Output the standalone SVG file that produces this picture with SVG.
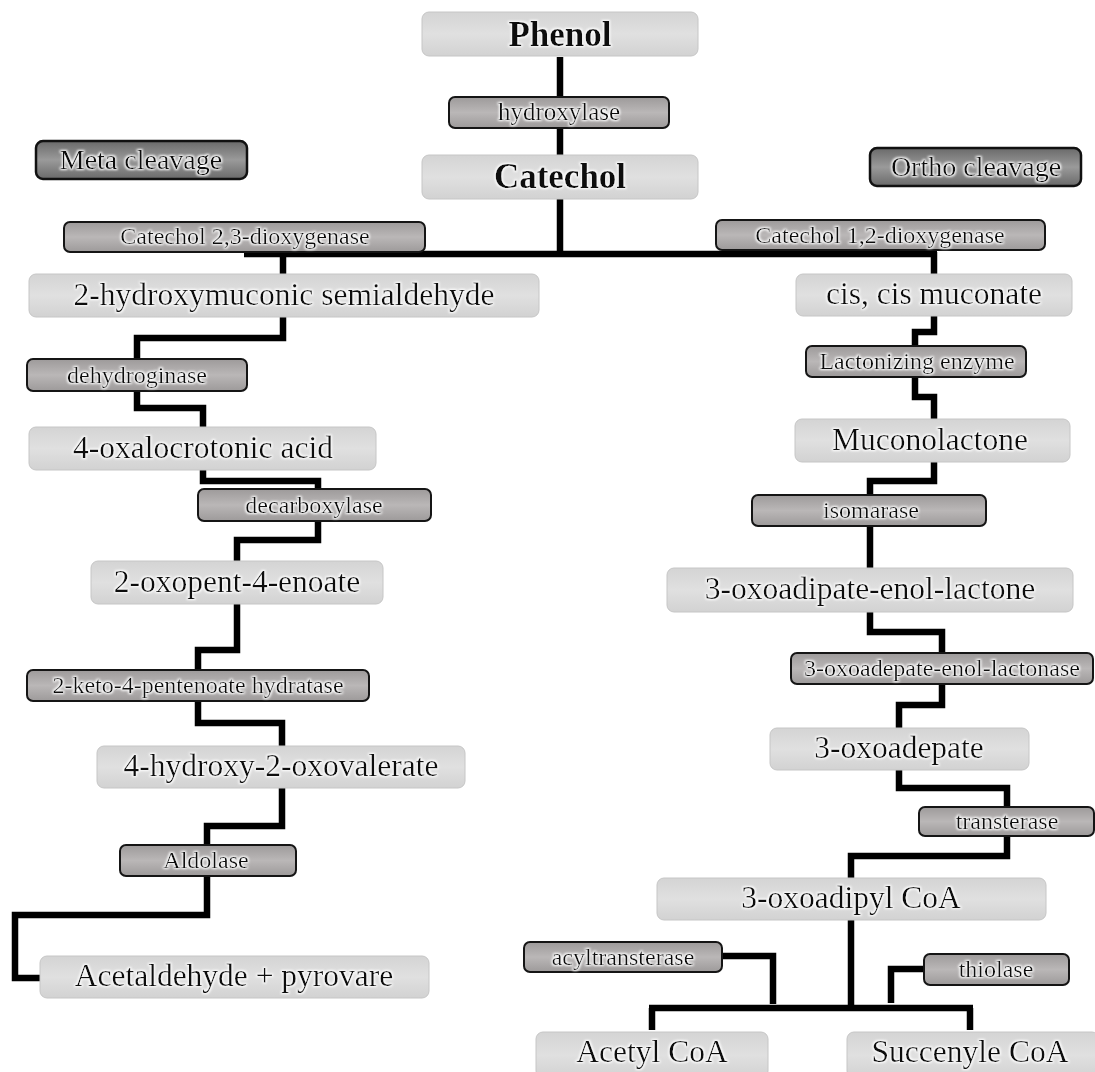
<svg xmlns="http://www.w3.org/2000/svg" width="1095" height="1072" viewBox="0 0 1095 1072">
<defs>
<linearGradient id="gNode" x1="0" y1="0" x2="0" y2="1">
<stop offset="0" stop-color="#d4d4d4"/><stop offset="0.5" stop-color="#e0e0e0"/><stop offset="1" stop-color="#d2d2d2"/>
</linearGradient>
<linearGradient id="gEnz" x1="0" y1="0" x2="0" y2="1">
<stop offset="0" stop-color="#9d9a9a"/><stop offset="0.5" stop-color="#bab7b7"/><stop offset="1" stop-color="#9d9a9a"/>
</linearGradient>
<linearGradient id="gCl" x1="0" y1="0" x2="0" y2="1">
<stop offset="0" stop-color="#6a6a6a"/><stop offset="0.5" stop-color="#9a9a9a"/><stop offset="1" stop-color="#6a6a6a"/>
</linearGradient>
<filter id="glow" x="-10%" y="-30%" width="120%" height="160%">
<feMorphology in="SourceAlpha" operator="dilate" radius="1" result="d"/>
<feGaussianBlur in="d" stdDeviation="1.2" result="b"/>
<feFlood flood-color="#ffffff"/>
<feComposite in2="b" operator="in" result="w"/>
<feMerge><feMergeNode in="w"/><feMergeNode in="SourceGraphic"/></feMerge>
</filter>
</defs>
<style>
.node{fill:url(#gNode);stroke:#c6c6c6;stroke-width:1}
.enz{fill:url(#gEnz);stroke:#151515;stroke-width:2}
.cl{fill:url(#gCl);stroke:#111;stroke-width:2.5}
.t{font-family:"Liberation Serif","Times New Roman",serif;fill:#111;text-anchor:middle;filter:url(#glow)}
.tn{font-size:31.5px}
.tb{font-size:35px;font-weight:bold}
.te{font-size:24px}
.tc{font-size:28px}
.c{fill:none;stroke:#000;stroke-width:6.5;stroke-linejoin:miter;stroke-linecap:butt}
</style>
<rect width="1095" height="1072" fill="#ffffff"/>

<g id="connectors">
<path class="c" d="M560,57 V155"/>
<path class="c" d="M560,199 V254"/>
<path class="c" d="M244,254 H937"/>
<path class="c" d="M283,254 V274"/>
<path class="c" d="M934,252 V274"/>
<path class="c" d="M283,317 V338 H137 V359"/>
<path class="c" d="M137,391 V408 H203 V427"/>
<path class="c" d="M203,470 V481 H318 V489"/>
<path class="c" d="M318,521 V540 H237 V561"/>
<path class="c" d="M237,604 V650 H198 V670"/>
<path class="c" d="M198,701 V723 H282 V746"/>
<path class="c" d="M282,788 V826 H207 V845"/>
<path class="c" d="M207,876 V915 H15 V978 H40"/>
<path class="c" d="M934,316 V332 H915 V346"/>
<path class="c" d="M915,377 V397 H934 V419"/>
<path class="c" d="M934,462 V481 H870 V495"/>
<path class="c" d="M870,526 V568"/>
<path class="c" d="M870,612 V632 H942 V653"/>
<path class="c" d="M942,684 V705 H899 V728"/>
<path class="c" d="M899,770 V788 H1007 V807"/>
<path class="c" d="M1007,836 V856 H851 V878"/>
<path class="c" d="M851,920 V1008"/>
<path class="c" d="M649,1008 H973"/>
<path class="c" d="M652,1008 V1030"/>
<path class="c" d="M970,1008 V1030"/>
<path class="c" d="M722,956 H773 V1004"/>
<path class="c" d="M924,969 H891 V1003"/>
</g>

<g id="phenol"><rect class="node" x="422" y="12" width="276" height="44" rx="7"/><text class="t tb" x="560" y="46">Phenol</text></g>
<g id="hydroxylase"><rect class="enz" x="449" y="97" width="220" height="31" rx="6"/><text class="t te" x="559" y="120" style="font-size:25px">hydroxylase</text></g>
<g id="catechol"><rect class="node" x="422" y="155" width="276" height="44" rx="7"/><text class="t tb" x="560" y="188">Catechol</text></g>
<g id="meta-cleavage"><rect class="cl" x="36" y="141" width="211" height="38" rx="7"/><text class="t tc" x="141" y="169">Meta cleavage</text></g>
<g id="ortho-cleavage"><rect class="cl" x="870" y="148" width="211" height="38" rx="7"/><text class="t tc" x="976" y="176">Ortho cleavage</text></g>
<g id="c23d"><rect class="enz" x="64" y="222" width="361" height="30" rx="6"/><text class="t te" x="245" y="244">Catechol 2,3-dioxygenase</text></g>
<g id="c12d"><rect class="enz" x="716" y="220" width="329" height="30" rx="6"/><text class="t te" x="880" y="243">Catechol 1,2-dioxygenase</text></g>

<g id="hms"><rect class="node" x="29" y="274" width="510" height="43" rx="7"/><text class="t tn" x="284" y="305">2-hydroxymuconic semialdehyde</text></g>
<g id="dehydroginase"><rect class="enz" x="27" y="359" width="220" height="32" rx="6"/><text class="t te" x="137" y="383">dehydroginase</text></g>
<g id="oxalocrotonic"><rect class="node" x="29" y="427" width="347" height="43" rx="7"/><text class="t tn" x="203" y="458">4-oxalocrotonic acid</text></g>
<g id="decarboxylase"><rect class="enz" x="198" y="489" width="233" height="32" rx="6"/><text class="t te" x="314" y="513">decarboxylase</text></g>
<g id="oxopentenoate"><rect class="node" x="91" y="561" width="292" height="43" rx="7"/><text class="t tn" x="237" y="592">2-oxopent-4-enoate</text></g>
<g id="hydratase"><rect class="enz" x="27" y="670" width="342" height="31" rx="6"/><text class="t te" x="198" y="693">2-keto-4-pentenoate hydratase</text></g>
<g id="hydroxyoxovalerate"><rect class="node" x="97" y="746" width="368" height="42" rx="7"/><text class="t tn" x="281" y="776">4-hydroxy-2-oxovalerate</text></g>
<g id="aldolase"><rect class="enz" x="120" y="845" width="176" height="31" rx="6"/><text class="t te" x="206" y="868">Aldolase</text></g>
<g id="acetaldehyde"><rect class="node" x="40" y="956" width="389" height="42" rx="7"/><text class="t tn" x="234" y="986">Acetaldehyde + pyrovare</text></g>

<g id="muconate"><rect class="node" x="796" y="274" width="276" height="42" rx="7"/><text class="t tn" x="934" y="304">cis, cis muconate</text></g>
<g id="lactonizing"><rect class="enz" x="806" y="346" width="220" height="31" rx="6"/><text class="t te" x="917" y="369">Lactonizing enzyme</text></g>
<g id="muconolactone"><rect class="node" x="795" y="419" width="275" height="43" rx="7"/><text class="t tn" x="930" y="450">Muconolactone</text></g>
<g id="isomarase"><rect class="enz" x="752" y="495" width="234" height="31" rx="6"/><text class="t te" x="871" y="518">isomarase</text></g>
<g id="enol-lactone"><rect class="node" x="667" y="568" width="406" height="44" rx="7"/><text class="t tn" x="870" y="599">3-oxoadipate-enol-lactone</text></g>
<g id="lactonase"><rect class="enz" x="791" y="653" width="302" height="31" rx="6"/><text class="t te" x="942" y="676">3-oxoadepate-enol-lactonase</text></g>
<g id="oxoadepate"><rect class="node" x="770" y="728" width="259" height="42" rx="7"/><text class="t tn" x="899" y="758">3-oxoadepate</text></g>
<g id="transterase"><rect class="enz" x="919" y="807" width="175" height="29" rx="6"/><text class="t te" x="1007" y="829">transterase</text></g>
<g id="oxoadipyl"><rect class="node" x="657" y="878" width="389" height="42" rx="7"/><text class="t tn" x="851" y="908">3-oxoadipyl CoA</text></g>
<g id="acyltransterase"><rect class="enz" x="524" y="942" width="198" height="30" rx="6"/><text class="t te" x="623" y="965">acyltransterase</text></g>
<g id="thiolase"><rect class="enz" x="924" y="954" width="145" height="31" rx="6"/><text class="t te" x="996" y="977">thiolase</text></g>
<g id="acetyl-coa"><rect class="node" x="536" y="1032" width="232" height="46" rx="7"/><text class="t tn" x="652" y="1062">Acetyl CoA</text></g>
<g id="succenyl-coa"><rect class="node" x="847" y="1032" width="252" height="46" rx="7"/><text class="t tn" x="970" y="1062">Succenyle CoA</text></g>
</svg>
